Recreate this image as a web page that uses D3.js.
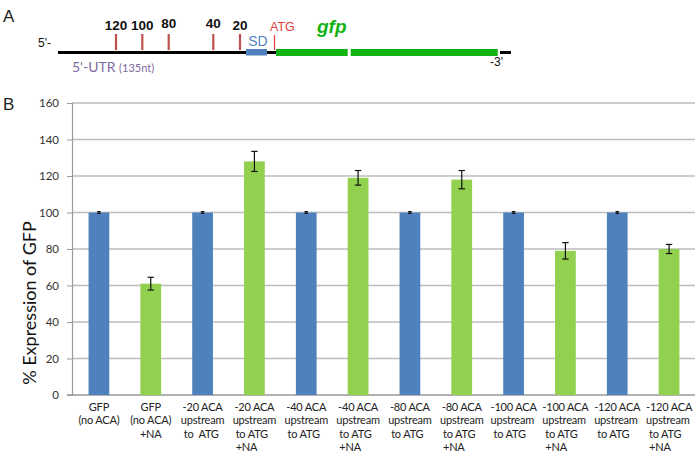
<!DOCTYPE html>
<html><head><meta charset="utf-8">
<script src="https://cdn.jsdelivr.net/npm/d3@7"></script>
<style>body{margin:0;background:#fff}svg{display:block}</style>
</head><body>
<svg id="c" width="700" height="455"></svg>
<script>
// ---- data ----
const categories = [
  ["GFP","(no ACA)"],
  ["GFP","(no ACA)","+NA"],
  ["-20 ACA","upstream","to  ATG"],
  ["-20 ACA","upstream","to ATG","+NA"],
  ["-40 ACA","upstream","to ATG"],
  ["-40 ACA","upstream","to ATG","+NA"],
  ["-80 ACA","upstream","to ATG"],
  ["-80 ACA","upstream","to ATG","+NA"],
  ["-100 ACA","upstream","to ATG"],
  ["-100 ACA","upstream","to ATG","+NA"],
  ["-120 ACA","upstream","to ATG"],
  ["-120 ACA","upstream","to ATG","+NA"]
];
const treatment = ["none","NA","none","NA","none","NA","none","NA","none","NA","none","NA"];
const values = [100, 61, 100, 128, 100, 119, 100, 118, 100, 79, 100, 80];
const errors = [0.5, 3.5, 0.5, 5.5, 0.5, 4, 0.5, 5, 0.5, 4.5, 0.5, 2.5];
const yTicks = [0, 20, 40, 60, 80, 100, 120, 140, 160];
const markerLabels = ["120", "100", "80", "40", "20"];

const svg = d3.select("#c");
const colors = d3.scaleOrdinal().domain(["none","NA"]).range(["#4F81BD","#92D050"]);

// ---- panel A: construct diagram ----
const A = svg.append("g");
const fA = "Liberation Sans, Arial, sans-serif";
A.append("text").attr("x",3).attr("y",22).attr("font-family",fA).attr("font-size",17).attr("fill","#222").text("A");
A.append("text").attr("x",38).attr("y",47).attr("font-family",fA).attr("font-size",12).attr("fill","#111").text("5'-");
// backbone
A.append("line").attr("x1",58).attr("x2",277).attr("y1",52.5).attr("y2",52.5).attr("stroke","#000").attr("stroke-width",3);
A.append("line").attr("x1",500).attr("x2",511).attr("y1",52.5).attr("y2",52.5).attr("stroke","#000").attr("stroke-width",3);
// markers
const markerX = [116, 142.3, 168.7, 213.3, 240];
const labelDy = [0, 0, -2, -2, 0];
markerLabels.forEach((m,i)=>{
  A.append("line").attr("x1",markerX[i]).attr("x2",markerX[i]).attr("y1",34).attr("y2",50)
    .attr("stroke","#C0504D").attr("stroke-width",2.2);
  A.append("text").attr("x",markerX[i]).attr("y",30+labelDy[i]).attr("text-anchor","middle")
    .attr("font-family",fA).attr("font-size",13.5).attr("font-weight","bold").attr("fill","#111").text(m);
});
// SD box
A.append("rect").attr("x",246).attr("y",49).attr("width",21).attr("height",6.5).attr("fill","#4F81BD");
A.append("text").attr("x",258).attr("y",46).attr("text-anchor","middle").attr("font-family",fA).attr("font-size",14).attr("fill","#4F81BD").text("SD");
// ATG
A.append("line").attr("x1",274.5).attr("x2",274.5).attr("y1",35).attr("y2",50).attr("stroke","#E03C3C").attr("stroke-width",1.2);
A.append("text").attr("x",270).attr("y",31).attr("font-family",fA).attr("font-size",12.5).attr("fill","#E03C3C").text("ATG");
// gfp bar
A.append("rect").attr("x",276).attr("y",49).attr("width",71.7).attr("height",7).attr("fill","#12B312");
A.append("rect").attr("x",350.7).attr("y",49).attr("width",147).attr("height",7).attr("fill","#12B312");
A.append("text").attr("x",317).attr("y",33).attr("font-family",fA).attr("font-size",19).attr("font-weight","bold").attr("font-style","italic").attr("fill","#12B312").text("gfp");
A.append("text").attr("x",490).attr("y",66).attr("font-family",fA).attr("font-size",12).attr("fill","#111").text("-3'");
// UTR label
const utr = A.append("text").attr("x",72).attr("y",72).attr("font-family","Lato, sans-serif").attr("fill","#7F6A9F");
utr.append("tspan").attr("font-size",14).text("5'-UTR ");
utr.append("tspan").attr("font-size",11).text("(135nt)");

// ---- panel B: bar chart ----
svg.append("text").attr("x",3).attr("y",110).attr("font-family",fA).attr("font-size",17).attr("fill","#222").text("B");

const m = {left:73, right:695, top:103, bottom:395};
const x = d3.scaleBand().domain(d3.range(categories.length)).range([m.left, m.right]).paddingInner(0.6).paddingOuter(0.3);
const y = d3.scaleLinear().domain([0,160]).range([m.bottom, m.top]);
const fB = "Lato, 'Open Sans', sans-serif";

// gridlines
svg.append("g").selectAll("line").data(yTicks.filter(t=>t>0)).join("line")
  .attr("x1",m.left-1).attr("x2",m.right).attr("y1",d=>y(d)).attr("y2",d=>y(d))
  .attr("stroke","#BDBDBD").attr("stroke-width",1.3);

// y axis
const yAxis = svg.append("g").attr("transform",`translate(${m.left-1},0)`)
  .call(d3.axisLeft(y).tickValues(yTicks).tickSize(5).tickPadding(8).tickFormat(d3.format("d")));
yAxis.select(".domain").attr("stroke","#999").attr("stroke-width",1.2);
yAxis.selectAll(".tick line").attr("stroke","#999");
yAxis.selectAll("text").attr("font-family",fB).attr("font-size",11.5).attr("fill","#333");

// x baseline
svg.append("line").attr("x1",m.left-6).attr("x2",m.right).attr("y1",y(0)).attr("y2",y(0)).attr("stroke","#999").attr("stroke-width",1.3);

// bars
svg.append("g").selectAll("rect").data(values).join("rect")
  .attr("x",(d,i)=>x(i)).attr("width",x.bandwidth())
  .attr("y",d=>y(d)).attr("height",d=>y(0)-y(d))
  .attr("fill",(d,i)=>colors(treatment[i]));

// error bars
const eg = svg.append("g").attr("stroke","#111").attr("stroke-width",1.2);
values.forEach((v,i)=>{
  const cx = x(i)+x.bandwidth()/2;
  const y1 = y(v+errors[i]), y2 = y(v-errors[i]);
  const cw = errors[i] < 1 ? 1.8 : 3.2;
  eg.append("line").attr("x1",cx).attr("x2",cx).attr("y1",y1).attr("y2",y2);
  eg.append("line").attr("x1",cx-cw).attr("x2",cx+cw).attr("y1",y1).attr("y2",y1);
  eg.append("line").attr("x1",cx-cw).attr("x2",cx+cw).attr("y1",y2).attr("y2",y2);
});

// x labels
const lg = svg.append("g").attr("font-family",fB).attr("font-size",11).attr("fill","#222").attr("letter-spacing","-0.2");
categories.forEach((lines,i)=>{
  const cx = x(i)+x.bandwidth()/2;
  const t = lg.append("text");
  const centered = i < 2;
  const tspans = lines.map((l,j)=> t.append("tspan").attr("y",411+j*13.3).attr("xml:space","preserve").text(l));
  if (centered) {
    tspans.forEach(s=>s.attr("x",cx).attr("text-anchor","middle"));
  } else {
    const w = d3.max(tspans, s=>s.node().getComputedTextLength());
    tspans.forEach((s,j)=>{
      const lw = s.node().getComputedTextLength();
      const off = j===0 ? (w-lw)/2 : (j>=2 ? 3 : 0);
      s.attr("x",cx - w/2 + off);
    });
  }
});

// y title
svg.append("text").attr("transform","translate(36,303) rotate(-90)").attr("text-anchor","middle")
  .attr("font-family",fB).attr("font-size",18).attr("fill","#111").text("% Expression of GFP");
</script>
</body></html>
